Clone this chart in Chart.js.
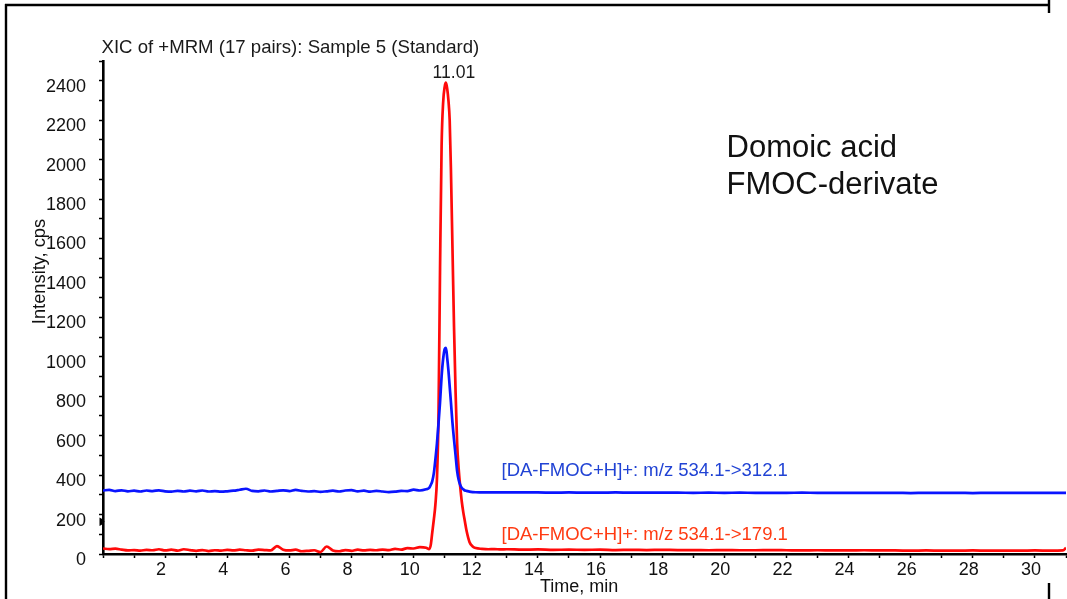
<!DOCTYPE html>
<html><head><meta charset="utf-8">
<script src="https://cdn.jsdelivr.net/npm/chart.js@4.4.1/dist/chart.umd.min.js"></script>
<style>html,body{margin:0;padding:0;background:#fff;} canvas{display:block;}</style>
</head><body>
<canvas id="c" width="1067" height="599"></canvas>
<script>
// ---- data (time in min, intensity in cps) ----
const times = [
  0.0,0.2,0.4,0.6,0.8,1.0,1.2,1.4,1.6,1.8,
  2.0,2.2,2.4,2.6,2.8,3.0,3.2,3.4,3.6,3.8,
  4.0,4.2,4.4,4.6,4.8,5.0,5.2,5.4,5.6,5.8,
  6.0,6.2,6.4,6.6,6.8,7.0,7.2,7.4,7.6,7.8,
  8.0,8.2,8.4,8.6,8.8,9.0,9.2,9.4,9.6,9.8,
  10.0,10.2,10.4,
  10.5,10.55,10.6,10.65,10.7,10.75,10.8,10.85,10.9,10.95,
  11.0,11.04,11.08,11.12,11.16,11.2,11.25,11.3,11.35,11.4,
  11.45,11.5,11.55,11.6,11.65,11.7,11.8,11.9,12.0,
  12.2,12.4,12.6,12.8,13.0,
  13.5,14.0,14.5,15.0,15.5,16.0,16.5,17.0,17.5,18.0,
  18.5,19.0,19.5,20.0,20.5,21.0,21.5,22.0,22.5,23.0,
  23.5,24.0,24.5,25.0,25.5,26.0,26.5,27.0,27.5,28.0,
  28.5,29.0,29.5,30.0,30.5,
  30.9,31.0
];
const blueValues = [ // [DA-FMOC+H]+ 534.1->312.1
  322,325,319,323,318,321,317,322,319,323,
  318,316,320,317,321,318,322,317,319,316,
  318,321,326,331,320,318,322,317,320,323,
  319,325,320,317,319,315,318,321,317,322,
  324,318,321,316,320,317,314,316,320,319,
  326,322,328,
  335,350,370,410,480,560,660,770,900,990,
  1040,1045,995,930,850,770,665,580,500,420,
  375,350,335,328,322,320,316,314,313,
  312,312,313,312,312,
  312,312,311,312,311,311,312,311,311,311,
  311,310,311,310,311,310,310,310,311,310,
  310,310,310,310,310,309,310,310,310,309,
  310,310,310,310,310,
  310,310
];
const redValues = [ // [DA-FMOC+H]+ 534.1->179.1
  28,25,27,22,18,20,17,21,19,24,
  18,22,17,24,20,16,20,15,19,17,
  21,18,22,19,17,22,20,18,40,22,
  18,22,14,16,19,10,38,18,14,20,
  16,22,18,21,19,22,20,26,22,30,
  28,35,32,
  25,45,110,175,250,380,700,1450,2070,2290,
  2370,2390,2360,2300,2200,1950,1550,1150,820,560,
  430,340,265,210,165,120,60,38,30,
  26,24,25,23,24,
  22,23,21,22,21,22,20,21,20,21,
  20,20,19,20,19,19,20,19,18,19,
  18,18,19,18,18,17,18,17,17,18,
  17,17,17,18,17,
  18,32
];
const yTickLabels = [0,200,400,600,800,1000,1200,1400,1600,1800,2000,2200,2400];
const xTickLabels = [2,4,6,8,10,12,14,16,18,20,22,24,26,28,30];
const chartTitle = 'XIC of +MRM (17 pairs): Sample 5 (Standard)';
const peakLabel = '11.01';
const peakTime = 11.04;
const peakValue = 2390;
const blueLabel = '[DA-FMOC+H]+: m/z 534.1->312.1';
const redLabel = '[DA-FMOC+H]+: m/z 534.1->179.1';
const noteLines = ['Domoic acid', 'FMOC-derivate'];
const xAxisTitle = 'Time, min';
const yAxisTitle = 'Intensity, cps';

const FONT = '"Liberation Sans", Arial, Helvetica, sans-serif';

const toPoints = vals => times.map((t, i) => ({x: t, y: vals[i]}));

const decorPlugin = {
  id: 'decor',
  afterDraw(chart) {
    const ctx = chart.ctx;
    const xs = chart.scales.x, ys = chart.scales.y;
    ctx.save();
    // frame
    ctx.strokeStyle = '#000';
    ctx.lineWidth = 2.4;
    ctx.beginPath();
    ctx.moveTo(5, 5); ctx.lineTo(1050, 5);
    ctx.moveTo(6, 4); ctx.lineTo(6, 599);
    ctx.moveTo(1049, 0); ctx.lineTo(1049, 13);
    ctx.moveTo(1049, 583); ctx.lineTo(1049, 599);
    ctx.stroke();
    // small marker on y axis
    ctx.fillStyle = '#000';
    ctx.beginPath();
    ctx.moveTo(99.5, 517.5); ctx.lineTo(103, 519.5); ctx.lineTo(104.5, 521.5);
    ctx.lineTo(103, 524); ctx.lineTo(99.5, 526); ctx.closePath();
    ctx.fill();
    // title
    ctx.fillStyle = '#1a1a1a';
    ctx.textBaseline = 'alphabetic';
    ctx.textAlign = 'left';
    ctx.font = '18.6px ' + FONT;
    ctx.fillText(chartTitle, 101.5, 53.3);
    // peak label
    ctx.textAlign = 'center';
    ctx.font = '17.6px ' + FONT;
    ctx.fillText(peakLabel, xs.getPixelForValue(peakTime) + 8, ys.getPixelForValue(peakValue) - 4.5);
    // note
    ctx.textAlign = 'left';
    ctx.fillStyle = '#111';
    ctx.font = '31px ' + FONT;
    ctx.fillText(noteLines[0], 726.5, 156.7);
    ctx.fillText(noteLines[1], 726.5, 194);
    // trace labels
    ctx.font = '18.5px ' + FONT;
    ctx.fillStyle = '#2143d4';
    ctx.fillText(blueLabel, 501.5, 476);
    ctx.fillStyle = '#ff3a12';
    ctx.fillText(redLabel, 501.5, 540);
    // axis titles
    ctx.fillStyle = '#111';
    ctx.font = '18px ' + FONT;
    ctx.fillText(xAxisTitle, 540, 592.3);
    ctx.save();
    ctx.translate(44.5, 271.5);
    ctx.rotate(-Math.PI / 2);
    ctx.textAlign = 'center';
    ctx.font = '18.3px ' + FONT;
    ctx.fillText(yAxisTitle, 0, 0);
    ctx.restore();
    ctx.restore();
  }
};

new Chart(document.getElementById('c'), {
  type: 'line',
  data: {
    datasets: [
      {label: blueLabel, data: toPoints(blueValues), borderColor: '#0a14ff', borderWidth: 2.7,
       pointRadius: 0, cubicInterpolationMode: 'monotone', fill: false},
      {label: redLabel, data: toPoints(redValues), borderColor: '#ff0a0a', borderWidth: 2.7,
       pointRadius: 0, cubicInterpolationMode: 'monotone', fill: false}
    ]
  },
  options: {
    responsive: false,
    animation: false,
    devicePixelRatio: 1,
    layout: {padding: {left: 0, top: 61, right: 1, bottom: 0}},
    plugins: {legend: {display: false}, tooltip: {enabled: false}, title: {display: false}},
    scales: {
      x: {
        type: 'linear', min: 0, max: 31,
        grid: {drawOnChartArea: false, drawTicks: true, tickLength: 4, color: '#000', tickWidth: 1.5},
        border: {display: true, color: '#000', width: 2.4},
        ticks: {
          stepSize: 1, autoSkip: false, maxRotation: 0, padding: 1, labelOffset: -4,
          color: '#111', font: {family: FONT, size: 18},
          callback: v => xTickLabels.includes(v) ? String(v) : ''
        },
        afterFit: s => { s.height = 45; }
      },
      y: {
        type: 'linear', min: 0, max: 2500,
        grid: {drawOnChartArea: false, drawTicks: true, tickLength: 4, color: '#000', tickWidth: 1.5},
        border: {display: true, color: '#000', width: 2.6},
        ticks: {
          stepSize: 100, autoSkip: false, padding: 13, labelOffset: 6,
          color: '#111', font: {family: FONT, size: 18},
          callback: v => yTickLabels.includes(v) ? String(v) : ''
        },
        afterFit: s => { s.width = 103; }
      }
    }
  },
  plugins: [decorPlugin]
});
</script>
</body></html>
